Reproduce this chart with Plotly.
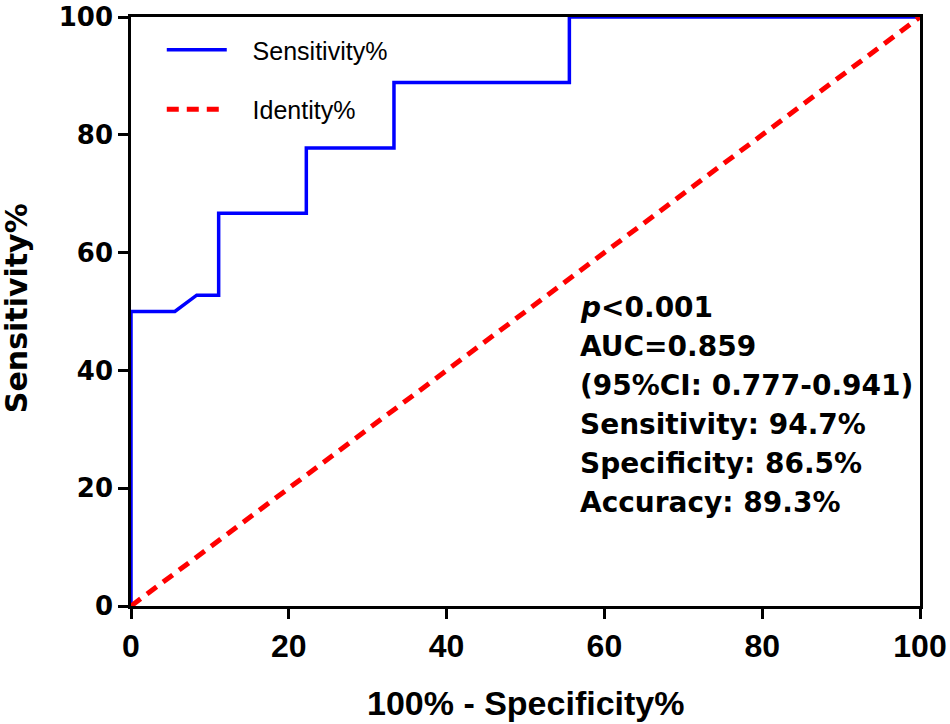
import plotly.graph_objects as go

# ROC curve (100% - specificity%, sensitivity%)
FPR = [0, 0, 5.56, 8.33, 11.11, 11.11, 22.22, 22.22, 33.33, 33.33, 55.56, 55.56, 100]
SENS = [0, 50, 50, 52.78, 52.78, 66.67, 66.67, 77.78, 77.78, 88.89, 88.89, 100, 100]
IDENT = [0, 100]
TICKS = [0, 20, 40, 60, 80, 100]
STATS = [
    "<i>p</i>&lt;0.001",
    "AUC=0.859",
    "(95%CI: 0.777-0.941)",
    "Sensitivity: 94.7%",
    "Specificity: 86.5%",
    "Accuracy: 89.3%",
]

ARIAL = "Liberation Sans, Arial, sans-serif"
WIDE = "DejaVu Sans, Verdana, sans-serif"
PAD = "\u00a0\u00a0\u00a0"  # legend text sits well clear of the sample line

fig = go.Figure()
fig.add_trace(go.Scatter(
    x=FPR, y=SENS, mode="lines", name=PAD + "Sensitivity%", legendgroup="a",
    line=dict(color="#0000ff", width=3.5),
))
fig.add_trace(go.Scatter(
    x=IDENT, y=IDENT, mode="lines", name=PAD + "Identity%", legendgroup="b",
    line=dict(color="#ff0000", width=5, dash="12px,8px"),
))

# stats block, one line per annotation so the line pitch matches
for i, line in enumerate(STATS):
    fig.add_annotation(
        x=56.6, y=50.6 - i * 6.62, xref="x", yref="y",
        xanchor="left", yanchor="middle", showarrow=False,
        text="<b>" + line + "</b>",
        font=dict(family=WIDE, size=28, color="black"),
    )

# axis titles as annotations for exact placement
fig.add_annotation(
    x=0.5, y=-0.165, xref="paper", yref="paper", showarrow=False,
    xanchor="center", yanchor="middle", text="<b>100% - Specificity%</b>",
    font=dict(family=ARIAL, size=34, color="black"),
)
fig.add_annotation(
    x=-0.145, y=0.505, xref="paper", yref="paper", showarrow=False,
    xanchor="center", yanchor="middle", textangle=-90,
    text="<b>Sensitivity%</b>",
    font=dict(family=WIDE, size=30, color="black"),
)

axis_common = dict(
    range=[0, 100], tickvals=TICKS, showgrid=False, zeroline=False,
    showline=True, linecolor="black", linewidth=2.5, mirror=True,
    ticks="outside", ticklen=10, tickwidth=2.5, tickcolor="black",
    layer="below traces", automargin=False, ticklabeloverflow="allow",
)
fig.update_xaxes(
    **axis_common,
    tickfont=dict(family=ARIAL, size=32, color="black", weight="bold"),
)
fig.update_yaxes(
    **axis_common,
    tickfont=dict(family=WIDE, size=26, color="black", weight="bold"),
)
fig.update_layout(
    width=950, height=724,
    margin=dict(l=131, r=30, t=17, b=118),
    paper_bgcolor="white", plot_bgcolor="white",
    showlegend=True,
    legend=dict(
        x=0.039, y=0.983, xanchor="left", yanchor="top",
        bgcolor="rgba(0,0,0,0)", tracegroupgap=24, itemwidth=60,
        font=dict(family=ARIAL, size=25, color="black"),
    ),
)
# drop the browser's default 8px body margin so the figure fills the window
fig.write_html(
    "out.html",
    config={"displayModeBar": False},
    post_script="document.body.style.margin='0';",
)
